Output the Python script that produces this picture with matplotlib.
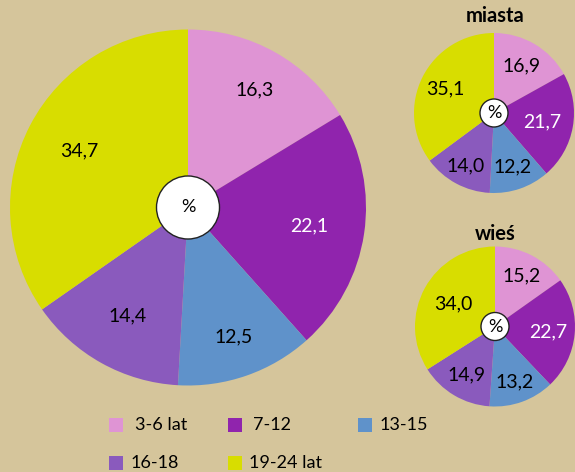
import matplotlib
matplotlib.use("Agg")
import numpy as np
import matplotlib.pyplot as plt
from matplotlib.patches import Circle, Rectangle

plt.rcParams["font.family"] = ["Lato", "DejaVu Sans"]

categories = ["3-6 lat", "7-12", "13-15", "16-18", "19-24 lat"]
total = [16.3, 22.1, 12.5, 14.4, 34.7]
miasta = [16.9, 21.7, 12.2, 14.0, 35.1]
wies = [15.2, 22.7, 13.2, 14.9, 34.0]

colors = ["#DF94D4", "#9024AD", "#5F92CA", "#8A5ABD", "#D8DD00"]
text_colors = ["black", "white", "black", "black", "black"]
bg = "#D5C59B"

W, H = 575, 472
fig = plt.figure(figsize=(W / 100, H / 100), dpi=100, facecolor=bg)


def pie_axes(cx, cy, r):
    # pixel centre/radius -> figure axes
    return fig.add_axes([(cx - r) / W, (H - cy - r) / H, 2 * r / W, 2 * r / H])


def draw_pie(ax, values, label_r, hole, fsize, pct_size):
    wedges, _ = ax.pie(values, colors=colors, startangle=90, counterclock=False,
                       radius=1, wedgeprops=dict(linewidth=0))
    for w, v, tc, lr in zip(wedges, values, text_colors, label_r):
        ang = np.deg2rad((w.theta1 + w.theta2) / 2)
        ax.text(lr * np.cos(ang), lr * np.sin(ang), f"{v:.1f}".replace(".", ","),
                ha="center", va="center", fontsize=fsize, color=tc)
    ax.add_patch(Circle((0, 0), hole, facecolor="white", edgecolor="#222222",
                        linewidth=1, zorder=5))
    ax.text(0, 0, "%", ha="center", va="center", fontsize=pct_size, zorder=6)
    ax.set_xlim(-1, 1)
    ax.set_ylim(-1, 1)
    ax.axis("off")


ax_big = pie_axes(188, 207.5, 178)
draw_pie(ax_big, total, [0.76, 0.69, 0.77, 0.70, 0.69], 0.177, 14, 13)

ax_m = pie_axes(494, 113, 80)
draw_pie(ax_m, miasta, [0.69, 0.61, 0.71, 0.75, 0.68], 0.175, 14, 13)

ax_w = pie_axes(495, 326.5, 80)
draw_pie(ax_w, wies, [0.71, 0.67, 0.74, 0.70, 0.60], 0.175, 14, 13)

fig.text(495 / W, 1 - 16 / H, "miasta", ha="center", va="center",
         fontsize=14.5, fontweight="bold")
fig.text(495 / W, 1 - 234 / H, "wieś", ha="center", va="center",
         fontsize=14.5, fontweight="bold")

# legend, laid out like the original
legend_pos = [(109, 425), (228, 425), (358, 425), (109, 463), (228, 463)]
text_dx = [26, 25, 22, 22, 21]
for (x, y), name, c, dx in zip(legend_pos, categories, colors, text_dx):
    fig.patches.append(Rectangle(((x) / W, (H - y - 7) / H), 14 / W, 14 / H,
                                 transform=fig.transFigure, facecolor=c,
                                 edgecolor="none"))
    fig.text((x + dx) / W, 1 - y / H, name, ha="left", va="center", fontsize=13)

fig.savefig("out.png", dpi=100, facecolor=bg)
